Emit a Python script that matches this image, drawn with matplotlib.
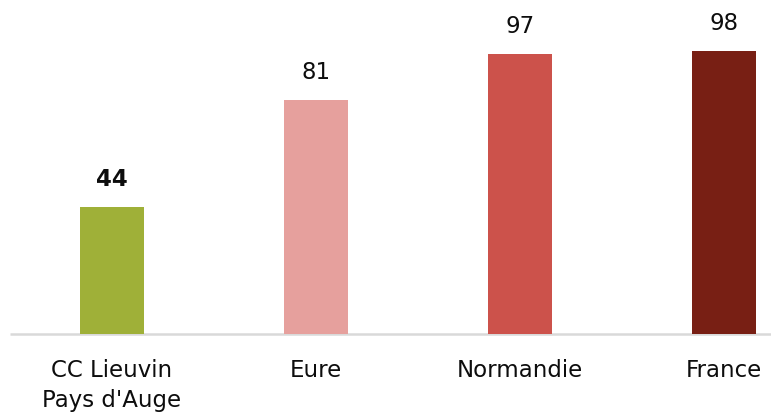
import matplotlib
matplotlib.use("Agg")
import matplotlib.pyplot as plt

plt.rcParams["font.family"] = ["DejaVu Sans"]

categories = ["CC Lieuvin\nPays d'Auge", "Eure", "Normandie", "France"]
values = [44, 81, 97, 98]
colors = ["#9FB038", "#E6A09D", "#CC524B", "#781F14"]
label_weights = ["bold", "normal", "normal", "normal"]

W, H, DPI = 771, 415, 100
fig = plt.figure(figsize=(W / DPI, H / DPI), dpi=DPI)

base_px = 333.5          # baseline position from top
px_per_unit = 2.88
slot_px = 204.0
left_px = 10.0

ax = fig.add_axes([0, (H - base_px) / H, 1, base_px / H])
x0 = -0.5 - left_px / slot_px
ax.set_xlim(x0, x0 + W / slot_px)
ax.set_ylim(0, base_px / px_per_unit)

xs = list(range(len(categories)))
bars = ax.bar(xs, values, width=64 / slot_px, color=colors, zorder=2)

for b, v, wt in zip(bars, values, label_weights):
    ax.annotate(str(v), (b.get_x() + b.get_width() / 2, v),
                xytext=(0, 11.5), textcoords="offset points",
                ha="center", va="bottom", fontsize=16.5, fontweight=wt,
                color="#0d0d0d")

for s in ["top", "right", "left", "bottom"]:
    ax.spines[s].set_visible(False)
ax.plot([-0.5, x0 + W / slot_px], [0, 0], color="#D9D9D9", lw=1.8,
        clip_on=False, zorder=1, solid_capstyle="butt")

ax.set_yticks([])
ax.set_xticks(xs)
ax.set_xticklabels(categories, fontsize=16.5, color="#0d0d0d", linespacing=1.4)
ax.tick_params(axis="x", length=0, pad=18)

fig.savefig("out.png", dpi=DPI)
